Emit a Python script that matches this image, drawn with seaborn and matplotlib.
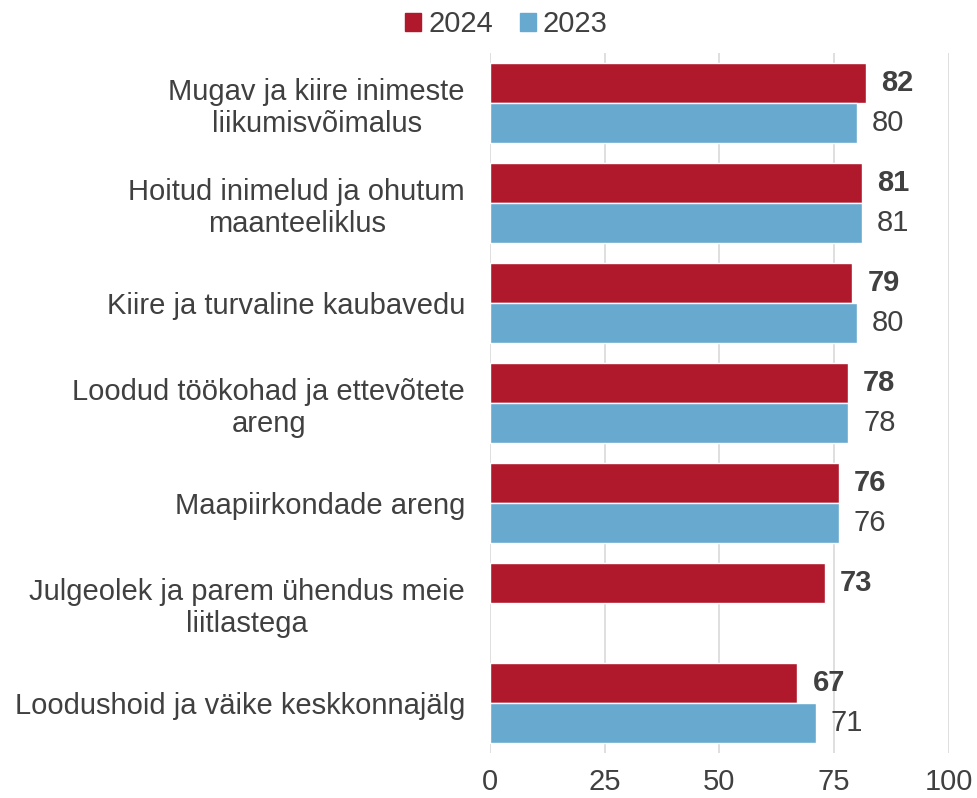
import numpy as np
import pandas as pd
import matplotlib
matplotlib.use("Agg")
import matplotlib.pyplot as plt
import seaborn as sns

categories = [
    "Mugav ja kiire inimeste\nliikumisvõimalus",
    "Hoitud inimelud ja ohutum\nmaanteeliklus",
    "Kiire ja turvaline kaubavedu",
    "Loodud töökohad ja ettevõtete\nareng",
    "Maapiirkondade areng",
    "Julgeolek ja parem ühendus meie\nliitlastega",
    "Loodushoid ja väike keskkonnajälg",
]
values_2024 = [82, 81, 79, 78, 76, 73, 67]
values_2023 = [80, 81, 80, 78, 76, np.nan, 71]
years = ["2024", "2023"]
colors = ["#B0182C", "#67A9CF"]

df = pd.DataFrame({
    "kategooria": categories * 2,
    "aasta": [years[0]] * len(categories) + [years[1]] * len(categories),
    "vaartus": values_2024 + values_2023,
})

sns.set_theme(style="white")
plt.rcParams["font.family"] = ["Liberation Sans", "DejaVu Sans"]
text_color = "#404040"
fs = 21

fig = plt.figure(figsize=(9.78, 7.98), dpi=100)
ax = fig.add_axes([0.501, 0.057, 0.469, 0.877])

sns.barplot(data=df, y="kategooria", x="vaartus", hue="aasta",
            hue_order=years, palette=colors, orient="h",
            width=0.8, saturation=1, ax=ax, legend=False)

# value labels: 2024 bold, 2023 regular
for cont, weight in zip(ax.containers, ["bold", "normal"]):
    ax.bar_label(cont, fmt="%.0f", padding=11, fontsize=fs,
                 color=text_color, fontweight=weight)

ax.set_xlim(0, 100)
ax.set_ylim(6.5, -0.5)
ax.set_xticks([0, 25, 50, 75, 100])
ax.set_xlabel("")
ax.set_ylabel("")
ax.grid(axis="x", color="#D9D9D9", linewidth=1.2)
ax.set_axisbelow(True)
for s in ax.spines.values():
    s.set_visible(False)
ax.tick_params(axis="both", length=0, labelsize=fs, colors=text_color)
ax.tick_params(axis="x", pad=11)
ax.tick_params(axis="y", pad=18)
for lbl in ax.get_yticklabels():
    lbl.set_multialignment("center")

handles = [plt.Rectangle((0, 0), 1, 1, color=c) for c in colors]
fig.legend(handles, years, loc="upper center", bbox_to_anchor=(0.518, 1.02),
           ncol=2, frameon=False, fontsize=fs, handlelength=0.55,
           handleheight=0.55, handletextpad=0.25, columnspacing=0.9,
           labelcolor=text_color)

fig.savefig("out.png", dpi=100)
